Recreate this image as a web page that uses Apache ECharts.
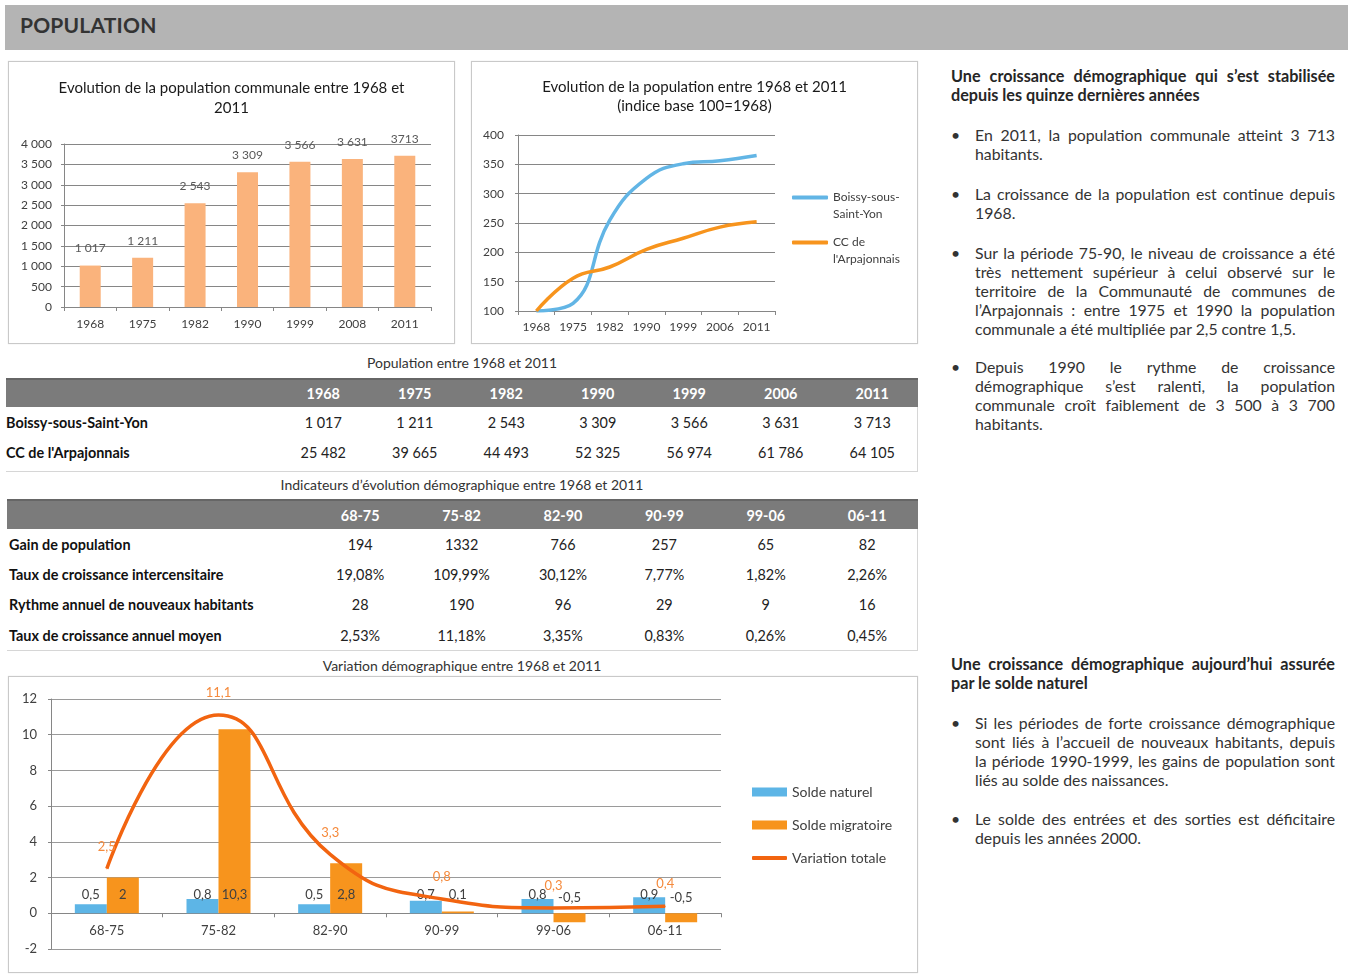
<!DOCTYPE html>
<html>
<head>
<meta charset="utf-8">
<script src="https://cdn.jsdelivr.net/npm/echarts/dist/echarts.min.js"></script>
<style>
body{margin:0;background:#fff;font-family:Lato,'Noto Sans',sans-serif;color:#333;}
#page{position:relative;width:1353px;height:980px;overflow:hidden;background:#fff;}
.hdr{position:absolute;left:5px;top:5px;width:1343px;height:45px;background:#b4b4b4;}
.hdr span{position:absolute;left:15px;top:7px;font-size:21px;font-weight:bold;color:#333;letter-spacing:0.2px;}
.box{position:absolute;border:1px solid #c9c9c9;box-sizing:border-box;box-shadow:0 0 1px #ddd;}
.chart{position:absolute;left:0;top:0;width:100%;height:100%;}
.ttl{position:absolute;left:6px;width:912px;text-align:center;font-size:14px;color:#333;line-height:18px;}
.tw{position:absolute;box-sizing:border-box;border-right:1px solid #d6d6d6;border-bottom:1px solid #d6d6d6;}
table{border-collapse:collapse;table-layout:fixed;font-size:14.4px;color:#222;}
th{background:#7b7b7b;color:#fff;font-weight:bold;text-align:center;padding:0;border-top:2px solid #666;}
td{padding:0;text-align:center;}
td.rl{text-align:left;font-weight:bold;color:#111;}
.txt{position:absolute;left:951px;width:384px;font-size:16.2px;line-height:18.9px;color:#262626;}
.txt div{white-space:nowrap;}
.j{text-align:justify;text-align-last:justify;}
.h{font-weight:bold;}
.bl{position:absolute;left:951px;width:384px;font-size:15.8px;line-height:18.9px;color:#333;}
.bl .b{position:absolute;left:0;top:0;}
.bl .c{position:absolute;left:24px;width:360px;}
.bl .c div{white-space:nowrap;}
</style>
</head>
<body>
<div id="page">
  <div class="hdr"><span>POPULATION</span></div>

  <div class="box" style="left:8px;top:61px;width:447px;height:283px;"><div id="c1" class="chart"></div></div>
  <div class="box" style="left:471px;top:61px;width:447px;height:283px;"><div id="c2" class="chart"></div></div>

  <div class="ttl" style="top:354px;">Population entre 1968 et 2011</div>
  <div class="tw" style="left:6px;top:378px;width:912px;height:94px;"><table id="t1"></table></div>

  <div class="ttl" style="top:476px;">Indicateurs d’évolution démographique entre 1968 et 2011</div>
  <div class="tw" style="left:7px;top:499px;width:911px;height:152px;"><table id="t2"></table></div>

  <div class="ttl" style="top:657px;">Variation démographique entre 1968 et 2011</div>
  <div class="box" style="left:8px;top:676px;width:910px;height:297px;"><div id="c3" class="chart"></div></div>

  <div class="txt h" style="top:67px;">
    <div class="j">Une croissance démographique qui s’est stabilisée</div>
    <div>depuis les quinze dernières années</div>
  </div>
  <div class="bl" style="top:126px;"><span class="b">•</span><div class="c">
    <div class="j">En 2011, la population communale atteint 3 713</div>
    <div>habitants.</div></div></div>
  <div class="bl" style="top:185px;"><span class="b">•</span><div class="c">
    <div class="j">La croissance de la population est continue depuis</div>
    <div>1968.</div></div></div>
  <div class="bl" style="top:244px;"><span class="b">•</span><div class="c">
    <div class="j">Sur la période 75-90, le niveau de croissance a été</div>
    <div class="j">très nettement supérieur à celui observé sur le</div>
    <div class="j">territoire de la Communauté de communes de</div>
    <div class="j">l’Arpajonnais : entre 1975 et 1990 la population</div>
    <div>communale a été multipliée par 2,5 contre 1,5.</div></div></div>
  <div class="bl" style="top:358px;"><span class="b">•</span><div class="c">
    <div class="j">Depuis 1990 le rythme de croissance</div>
    <div class="j">démographique s’est ralenti, la population</div>
    <div class="j">communale croît faiblement de 3 500 à 3 700</div>
    <div>habitants.</div></div></div>

  <div class="txt h" style="top:655px;">
    <div class="j">Une croissance démographique aujourd’hui assurée</div>
    <div>par le solde naturel</div>
  </div>
  <div class="bl" style="top:714px;"><span class="b">•</span><div class="c">
    <div class="j">Si les périodes de forte croissance démographique</div>
    <div class="j">sont liés à l’accueil de nouveaux habitants, depuis</div>
    <div class="j">la période 1990-1999, les gains de population sont</div>
    <div>liés au solde des naissances.</div></div></div>
  <div class="bl" style="top:810px;"><span class="b">•</span><div class="c">
    <div class="j">Le solde des entrées et des sorties est déficitaire</div>
    <div>depuis les années 2000.</div></div></div>
</div>

<script>
// ---------- DATA ----------
const popYears = ['1968', '1975', '1982', '1990', '1999', '2008', '2011'];
const popBoissy = [1017, 1211, 2543, 3309, 3566, 3631, 3713];
const popLabels = ['1 017', '1 211', '2 543', '3 309', '3 566', '3 631', '3713'];

const indexYears = ['1968', '1975', '1982', '1990', '1999', '2006', '2011'];
const indexBoissy = [100, 113, 255, 326, 351, 356, 365];
const indexCC = [100, 156, 175, 205, 224, 243, 252];
const indexNames = ['Boissy-sous-Saint-Yon', "CC de l'Arpajonnais"];
const indexLegendText = ['Boissy-sous-\nSaint-Yon', "CC de\nl'Arpajonnais"];

const tableYears = ['1968', '1975', '1982', '1990', '1999', '2006', '2011'];
const tableRowNames = ['Boissy-sous-Saint-Yon', "CC de l'Arpajonnais"];
const tableBoissy = ['1 017', '1 211', '2 543', '3 309', '3 566', '3 631', '3 713'];
const tableCC = ['25 482', '39 665', '44 493', '52 325', '56 974', '61 786', '64 105'];

const periods = ['68-75', '75-82', '82-90', '90-99', '99-06', '06-11'];
const indicatorNames = ['Gain de population', 'Taux de croissance intercensitaire',
  'Rythme annuel de nouveaux habitants', 'Taux de croissance annuel moyen'];
const gainPop = ['194', '1332', '766', '257', '65', '82'];
const tauxInter = ['19,08%', '109,99%', '30,12%', '7,77%', '1,82%', '2,26%'];
const rythmeAnnuel = ['28', '190', '96', '29', '9', '16'];
const tauxAnnuel = ['2,53%', '11,18%', '3,35%', '0,83%', '0,26%', '0,45%'];

const variationNames = ['Solde naturel', 'Solde migratoire', 'Variation totale'];
const soldeNaturel = [0.5, 0.8, 0.5, 0.7, 0.8, 0.9];
const soldeMigratoire = [2, 10.3, 2.8, 0.1, -0.5, -0.5];
const variationTotale = [2.5, 11.1, 3.3, 0.8, 0.3, 0.4];

// ---------- TABLES ----------
function buildTable(el, labelW, colW, headers, rows, headH, rowH, labelPad) {
  let h = '<colgroup><col style="width:' + labelW + 'px">';
  headers.forEach(() => h += '<col style="width:' + colW + 'px">');
  h += '</colgroup><tr style="height:' + headH + 'px"><th></th>';
  headers.forEach(x => h += '<th>' + x + '</th>');
  h += '</tr>';
  rows.forEach(r => {
    h += '<tr style="height:' + rowH + 'px"><td class="rl" style="padding-left:' + labelPad + 'px">' + r[0] + '</td>';
    r[1].forEach(v => h += '<td>' + v + '</td>');
    h += '</tr>';
  });
  el.style.width = (labelW + colW * headers.length) + 'px';
  el.innerHTML = h;
}
buildTable(document.getElementById('t1'), 271.5, 91.5, tableYears,
  [[tableRowNames[0], tableBoissy], [tableRowNames[1], tableCC]], 28, 30, 0);
buildTable(document.getElementById('t2'), 302.5, 101.4, periods,
  [[indicatorNames[0], gainPop], [indicatorNames[1], tauxInter],
   [indicatorNames[2], rythmeAnnuel], [indicatorNames[3], tauxAnnuel]], 29, 30.4, 2);

// ---------- CHARTS ----------
const FONT = 'Lato';
const grey = '#868686';
const fmtSpace = v => String(v).replace(/\B(?=(\d{3})+(?!\d))/g, ' ');
const fmtComma = v => String(v).replace('.', ',');

// Chart 1
const c1 = echarts.init(document.getElementById('c1'));
c1.setOption({
  animation: false,
  textStyle: { fontFamily: FONT },
  title: {
    text: 'Evolution de la population communale entre 1968 et\n2011',
    left: 'center', top: 11,
    textStyle: { fontFamily: FONT, fontSize: 15, fontWeight: 'normal', color: '#1a1a1a', lineHeight: 20 }
  },
  grid: { left: 55, top: 82, right: 23, bottom: 36, outerBoundsMode: 'none' },
  xAxis: {
    type: 'category', data: popYears,
    axisLine: { lineStyle: { color: grey } },
    axisTick: { show: true, length: 4, lineStyle: { color: grey } },
    axisLabel: { color: '#404040', fontSize: 12, margin: 11, fontFamily: FONT }
  },
  yAxis: {
    type: 'value', min: 0, max: 4000, interval: 500,
    axisLine: { show: true, lineStyle: { color: grey } },
    axisTick: { show: true, length: 3, lineStyle: { color: grey } },
    splitLine: { lineStyle: { color: grey } },
    axisLabel: { color: '#404040', fontSize: 12, margin: 12, fontFamily: FONT, formatter: fmtSpace }
  },
  series: [{
    type: 'bar', data: popBoissy, barWidth: 21,
    itemStyle: { color: '#FAB37C' },
    label: { show: true, position: 'top', distance: 11, color: '#595959', fontSize: 12, fontFamily: FONT,
      formatter: p => popLabels[p.dataIndex] }
  }]
});

// Chart 2
const c2 = echarts.init(document.getElementById('c2'));
const lineColors = ['#62B5E5', '#F7941D'];
c2.setOption({
  animation: false,
  textStyle: { fontFamily: FONT },
  title: {
    text: 'Evolution de la population entre 1968 et 2011\n(indice base 100=1968)',
    left: 'center', top: 11,
    textStyle: { fontFamily: FONT, fontSize: 15, fontWeight: 'normal', color: '#1a1a1a', lineHeight: 19 }
  },
  legend: {
    orient: 'vertical', left: 315, top: 105, itemWidth: 36, itemHeight: 4, itemGap: -6,
    icon: 'roundRect',
    data: indexNames,
    formatter: n => '\n' + indexLegendText[indexNames.indexOf(n)],
    textStyle: { fontFamily: FONT, fontSize: 12, color: '#404040', lineHeight: 17 }
  },
  grid: { left: 46, top: 73, right: 142, bottom: 32, outerBoundsMode: 'none' },
  xAxis: {
    type: 'category', data: indexYears,
    axisLine: { lineStyle: { color: grey } },
    axisTick: { show: true, length: 4, lineStyle: { color: grey } },
    axisLabel: { color: '#404040', fontSize: 12, margin: 10, fontFamily: FONT }
  },
  yAxis: {
    type: 'value', min: 100, max: 400, interval: 50,
    axisLine: { show: true, lineStyle: { color: grey } },
    axisTick: { show: true, length: 3, lineStyle: { color: grey } },
    splitLine: { lineStyle: { color: grey } },
    axisLabel: { color: '#404040', fontSize: 12, margin: 14, fontFamily: FONT }
  },
  series: [
    { name: indexNames[0], type: 'line', data: indexBoissy, smooth: 0.45, symbol: 'none',
      lineStyle: { width: 3.5, color: lineColors[0] }, itemStyle: { color: lineColors[0] } },
    { name: indexNames[1], type: 'line', data: indexCC, smooth: 0.45, symbol: 'none',
      lineStyle: { width: 3.5, color: lineColors[1] }, itemStyle: { color: lineColors[1] } }
  ]
});

// Chart 3
const c3 = echarts.init(document.getElementById('c3'));
const c3Grid = { left: 42, top: 22, right: 196, bottom: 23 };
const c3YMin = -2, c3YMax = 12;
const c3ZeroOffset = -(c3.getHeight() - c3Grid.top - c3Grid.bottom) * (0 - c3YMin) / (c3YMax - c3YMin);
const barLabel = v => ({
  value: v,
  label: { position: v < 0 ? 'top' : 'insideBottom', distance: v < 0 ? 9 : 12 }
});
const c3Label = { show: true, color: '#404040', fontSize: 13, fontFamily: FONT, formatter: p => fmtComma(p.value) };
const totalColor = '#F26410';
c3.setOption({
  animation: false,
  textStyle: { fontFamily: FONT },
  legend: [
    { orient: 'vertical', left: 738, top: 102, itemWidth: 35, itemHeight: 9, itemGap: 17, icon: 'rect',
      data: [variationNames[0], variationNames[1]],
      textStyle: { fontFamily: FONT, fontSize: 14, color: '#404040', lineHeight: 16 } },
    { orient: 'vertical', left: 738, top: 168, itemWidth: 35, itemHeight: 4, icon: 'roundRect',
      data: [variationNames[2]],
      textStyle: { fontFamily: FONT, fontSize: 14, color: '#404040', lineHeight: 16 } }
  ],
  grid: Object.assign({ outerBoundsMode: 'none' }, c3Grid),
  xAxis: {
    type: 'category', data: periods, offset: c3ZeroOffset,
    axisLine: { onZero: false, lineStyle: { color: grey } },
    axisTick: { show: true, length: 4, lineStyle: { color: grey } },
    axisLabel: { color: '#404040', fontSize: 13, margin: 11, fontFamily: FONT }
  },
  yAxis: {
    type: 'value', min: c3YMin, max: c3YMax, interval: 2,
    axisLine: { show: true, lineStyle: { color: grey } },
    axisTick: { show: true, length: 3, lineStyle: { color: grey } },
    splitLine: { lineStyle: { color: '#9a9a9a' } },
    axisLabel: { color: '#404040', fontSize: 13, margin: 14, fontFamily: FONT }
  },
  series: [
    { name: variationNames[0], type: 'bar', data: soldeNaturel.map(barLabel), barWidth: 32, barGap: '0%',
      itemStyle: { color: '#5DB5E6' }, label: c3Label },
    { name: variationNames[1], type: 'bar', data: soldeMigratoire.map(barLabel), barWidth: 32, barGap: '0%',
      itemStyle: { color: '#F7941D' }, label: c3Label },
    { name: variationNames[2], type: 'line', data: variationTotale, smooth: 0.5,
      symbol: 'circle', symbolSize: 1, showSymbol: true, z: 5,
      lineStyle: { width: 3.5, color: totalColor }, itemStyle: { color: totalColor },
      label: { show: true, position: 'top', distance: 15, color: '#F58A3C', fontSize: 13, fontFamily: FONT,
        formatter: p => fmtComma(p.value) } }
  ]
});
</script>
</body>
</html>
